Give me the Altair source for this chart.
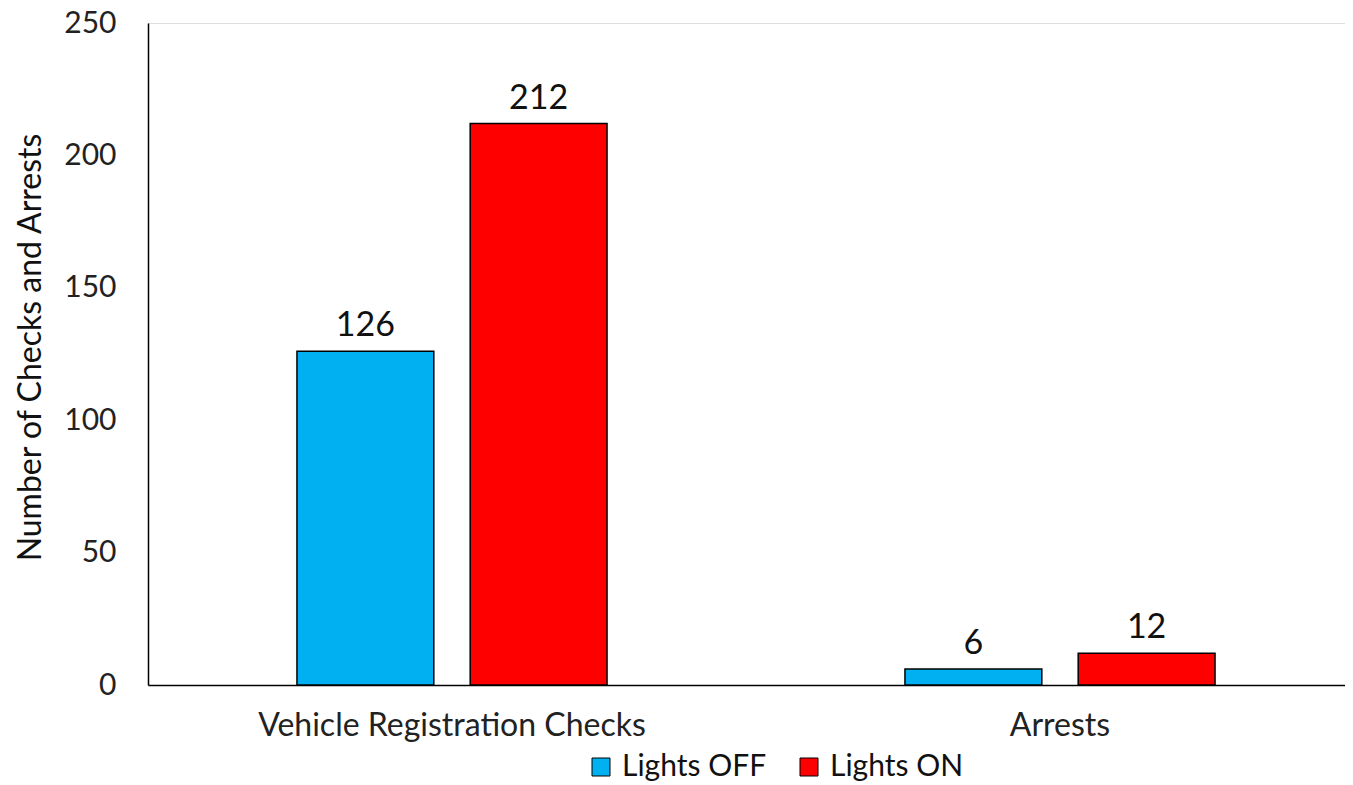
import altair as alt
import pandas as pd

categories = ["Vehicle Registration Checks", "Arrests"]
series = ["Lights OFF", "Lights ON"]
lights_off = [126, 6]
lights_on = [212, 12]
colors = ["#00B0F0", "#FF0000"]
y_ticks = [0, 50, 100, 150, 200, 250]

rows = []
for c, off, on in zip(categories, lights_off, lights_on):
    rows.append({"category": c, "series": series[0], "value": off})
    rows.append({"category": c, "series": series[1], "value": on})
df = pd.DataFrame(rows)

FONT = "Lato"
FS = 30

x = alt.X(
    "category:N",
    sort=categories,
    scale=alt.Scale(domain=categories, range=[0, 1216], paddingInner=0.49, paddingOuter=0.245),
    axis=alt.Axis(
        title=None, labelAngle=0, ticks=False, tickSize=0, labelPadding=25, labelLimit=0,
        labelFontSize=32, labelFont=FONT, labelColor="#222", domainColor="#000",
        domainWidth=1.5, labelBaseline="top",
    ),
)
xo = alt.XOffset("series:N", sort=series, scale=alt.Scale(domain=series, paddingInner=0.21, paddingOuter=0))
y = alt.Y(
    "value:Q",
    scale=alt.Scale(domain=[0, 250], nice=False),
    axis=alt.Axis(
        title="Number of Checks and Arrests", values=y_ticks, grid=False, ticks=False, tickSize=0,
        labelPadding=32, labelFontSize=FS, labelFont=FONT, labelColor="#222",
        domainColor="#000", domainWidth=1.5,
        titleFontSize=32, titleFont=FONT, titleFontWeight="normal", titleColor="#111",
        titleAngle=270, titleX=-118, titleY=324, titleAlign="center", titleBaseline="middle",
    ),
)

bars = alt.Chart(df).mark_bar(stroke="#000", strokeWidth=1.5).encode(
    x=x, xOffset=xo, y=y,
    color=alt.Color(
        "series:N", sort=series,
        scale=alt.Scale(domain=series, range=colors),
        legend=alt.Legend(
            title=None, orient="none", legendX=438, legendY=729, direction="horizontal",
            symbolType="square", symbolSize=324, symbolStrokeColor="#000", symbolStrokeWidth=1,
            symbolOpacity=1, labelFontSize=FS, labelFont=FONT, labelColor="#111",
            columnPadding=27, labelOffset=6, padding=0, labelLimit=0,
        ),
    ),
)

labels = alt.Chart(df).mark_text(
    baseline="alphabetic", dy=-15, fontSize=34, font=FONT, color="#111"
).encode(x=x, xOffset=xo, y=y, text="value:Q")

chart = (
    alt.layer(bars, labels)
    .properties(
        width=1197, height=662,
        autosize=alt.AutoSizeParams(type="none"),
        padding={"left": 140, "top": 15, "right": 0, "bottom": 100},
    )
    .configure_view(stroke=None)
    .configure(background="white")
)

chart.save("out.html", embed_options={"renderer": "svg", "actions": False})
